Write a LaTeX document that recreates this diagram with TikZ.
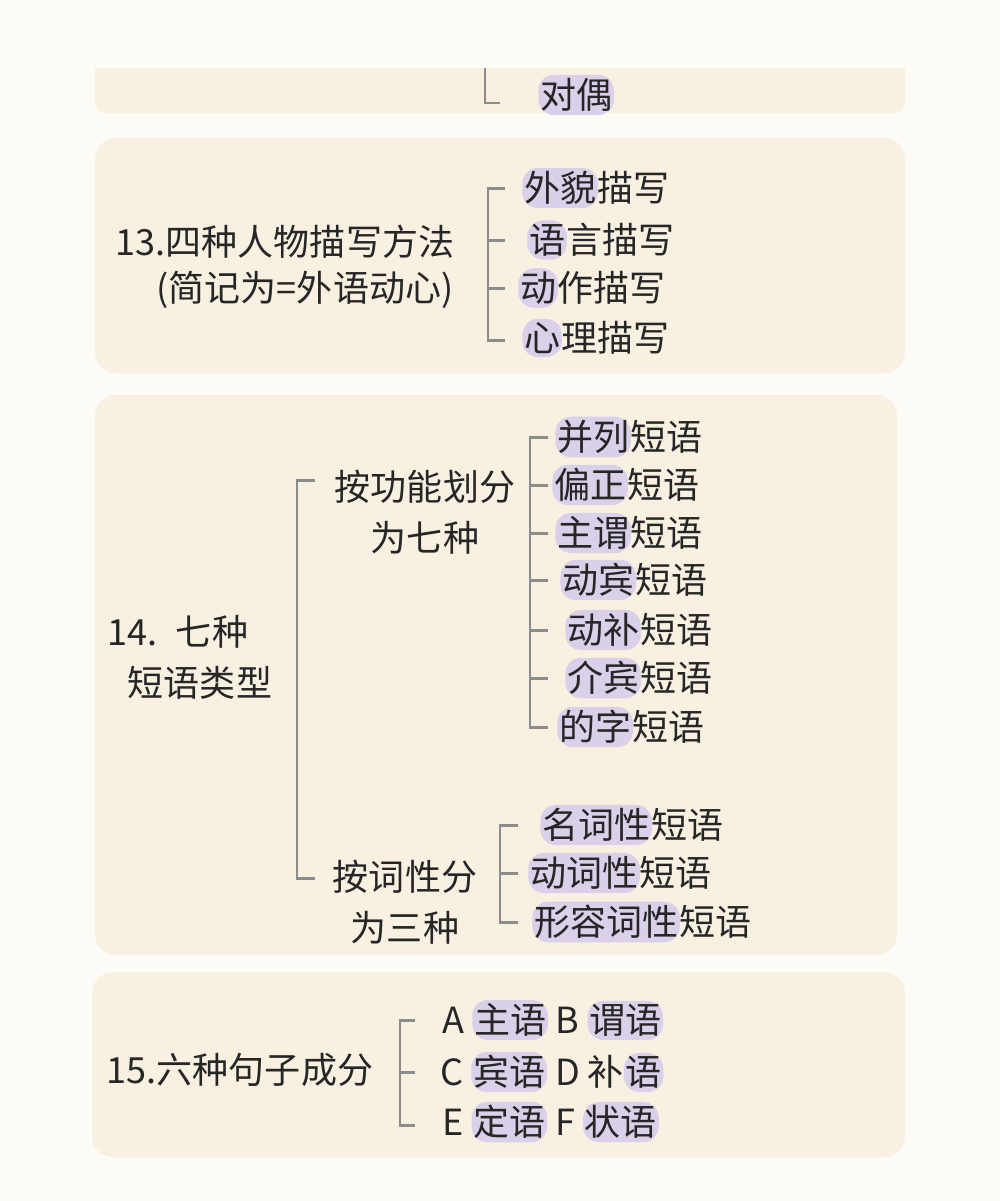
\documentclass[tikz,border=0pt]{standalone}
\usepackage{fontspec}
\newfontfamily\cjk{Noto Sans CJK SC}
\definecolor{pagebg}{HTML}{FDFBF5}
\definecolor{boxbg}{HTML}{F8F1E2}
\definecolor{hlc}{HTML}{DAD0EA}
\definecolor{brk}{HTML}{8C8C8C}
\newcommand\hl[1]{\tikz[baseline=(h.base)]\node[fill=hlc,rounded corners=9pt,inner xsep=1pt,inner ysep=2pt](h){#1};}
\begin{document}
\begin{tikzpicture}[x=0.02cm,y=-0.02cm,
  txt/.style={font=\cjk\fontsize{20.5}{25}\selectfont,inner sep=0pt,text=black!85},
  item/.style={txt,anchor=west},
  panel/.style={fill=boxbg,rounded corners=12pt},
  brline/.style={draw=brk,line width=1.7pt}]
\path[fill=pagebg] (0,0) rectangle (1000,1201);
\useasboundingbox (0,0) rectangle (1000,1201);
% panels
\fill[boxbg] (95,68) -- (905,68) -- (905,103) arc[start angle=0,end angle=90,radius=10] -- (105,113) arc[start angle=90,end angle=180,radius=10] -- cycle;
\path[panel] (95,138) rectangle (905,373);
\path[panel] (95,395) rectangle (897,955);
\path[panel] (92,972) rectangle (905,1157);
% box1
\coordinate (b1t) at (485,68); \coordinate (b1e) at (500,103);
\draw[brline] (b1t) |- (b1e);
\node[item] (dui) at (538,95) {\hl{对偶}};
% box2
\node[txt] (t13) at (285,242) {13.四种人物描写方法};
\node[txt] (t13b) at (305,290) {(简记为=外语动心)};
\coordinate (b2a) at (505,188); \coordinate (b2b) at (505,240);
\coordinate (b2c) at (505,288); \coordinate (b2d) at (505,340);
\draw[brline] (b2a) -| (488,340) -- (b2d);
\draw[brline] (488,240) -- (b2b);
\draw[brline] (488,288) -- (b2c);
\node[item] (w1) at (522,188) {\hl{外貌}描写};
\node[item] (w2) at (527,240) {\hl{语}言描写};
\node[item] (w3) at (518,288) {\hl{动}作描写};
\node[item] (w4) at (522,338) {\hl{心}理描写};
% box3
\node[txt] (t14) at (178,632) {14.\enspace 七种};
\node[txt] (t14b) at (200,683) {短语类型};
\draw[brline] (315,480) -| (297,878) -- (315,878);
\node[txt,align=center] (f1) at (425,512) {按功能划分\\[4pt]为七种};
\node[txt,align=center] (f2) at (405,902) {按词性分\\[4pt]为三种};
\draw[brline] (548,437) -| (530,727) -- (548,727);
\foreach \yy in {485,533,580,630,678} \draw[brline] (530,\yy) -- (548,\yy);
\node[item] (p1) at (555,437) {\hl{并列}短语};
\node[item] (p2) at (552,485) {\hl{偏正}短语};
\node[item] (p3) at (555,533) {\hl{主谓}短语};
\node[item] (p4) at (560,580) {\hl{动宾}短语};
\node[item] (p5) at (565,630) {\hl{动补}短语};
\node[item] (p6) at (565,678) {\hl{介宾}短语};
\node[item] (p7) at (557,727) {\hl{的字}短语};
\draw[brline] (518,825) -| (500,922) -- (518,922);
\draw[brline] (500,873) -- (518,873);
\node[item] (q1) at (540,825) {\hl{名词性}短语};
\node[item] (q2) at (528,873) {\hl{动词性}短语};
\node[item] (q3) at (532,922) {\hl{形容词性}短语};
% box4
\node[txt] (t15) at (240,1070) {15.六种句子成分};
\draw[brline] (415,1020) -| (400,1125) -- (415,1125);
\draw[brline] (400,1072) -- (415,1072);
\node[item] (r1) at (442,1020) {A \hl{主语} B \hl{谓语}};
\node[item] (r2) at (440,1072) {C \hl{宾语} D 补\hl{语}};
\node[item] (r3) at (442,1122) {E \hl{定语} F \hl{状语}};
\end{tikzpicture}
\end{document}
